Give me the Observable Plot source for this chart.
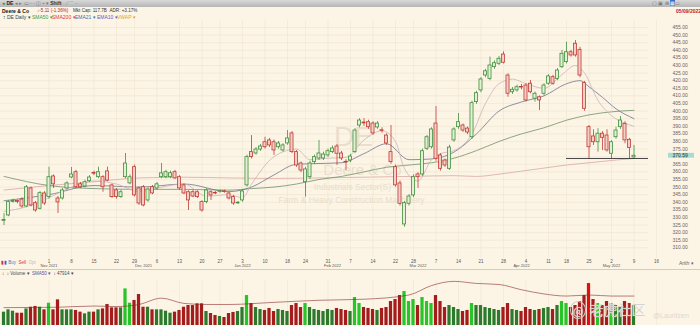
<!DOCTYPE html>
<html><head><meta charset="utf-8">
<script src="https://cdn.jsdelivr.net/npm/d3@7"></script>
<script src="https://cdn.jsdelivr.net/npm/@observablehq/plot@0.6"></script>
<style>
body{margin:0;background:#fcf5e6;font-family:"Liberation Sans",Arial,sans-serif;}
#wrap{position:relative;width:700px;height:325px;overflow:hidden;background:#fcf5e6;}
.abs{position:absolute;white-space:nowrap;line-height:1;}
svg{position:absolute;left:0;overflow:visible;}
</style></head><body><div id="wrap"></div>
<script>
// ---------------- DATA ----------------
const startDate = "2021-10-18";
const holidays = ["2021-11-25","2021-12-24","2022-01-17","2022-02-21","2022-04-15"];

const open = [327.8,331.3,340.3,340.8,341.8,337.2,349.1,339.4,335.7,345.8,
343.4,357.0,342.5,342.5,349.1,356.3,359.8,351.8,350.4,353.9,
359.2,356.5,356.5,360.3,351.1,347.8,343.4,356.5,352.4,363.1,
349.1,349.9,341.2,349.9,349.1,356.5,356.5,356.5,359.8,356.5,
351.1,346.6,346.6,346.6,340.1,340.1,346.6,346.2,346.9,347.2,
345.8,343.4,339.3,341.2,351.1,373.0,372.1,374.7,379.5,380.7,
379.5,376.2,374.1,378.7,385.3,373.0,365.5,353.2,356.5,366.4,
368.8,368.8,370.8,373.0,376.7,372.1,366.6,367.5,373.0,390.5,
392.4,392.7,391.8,389.2,387.4,383.9,373.0,363.1,352.4,325.4,
339.0,344.5,358.3,358.3,375.2,376.2,391.8,370.8,367.5,362.0,
380.7,389.4,390.5,388.5,382.8,405.9,413.6,423.4,421.2,428.9,
431.1,437.2,423.4,412.4,413.6,415.9,416.8,418.0,408.1,409.1,
411.4,418.0,422.3,421.2,428.9,432.2,438.7,444.3,440.3,418.4,
389.4,383.3,379.5,385.1,383.9,371.9,382.8,389.4,391.6,381.1,
369.5];
const high = [332.6,341.0,342.0,341.5,343.0,351.0,350.0,340.5,347.0,347.0,
363.1,358.0,343.8,349.0,353.5,362.9,361.0,353.0,354.5,357.5,
360.5,363.1,357.5,363.1,352.0,349.0,348.0,372.1,358.0,364.5,
350.0,351.0,349.5,351.0,353.0,365.5,361.0,360.5,361.0,357.5,
352.0,347.5,348.0,347.5,341.0,349.0,347.5,347.0,348.0,348.0,
346.5,344.5,340.5,348.0,371.0,383.9,376.0,378.0,382.8,382.0,
381.0,380.0,378.5,387.2,386.5,374.0,366.5,363.0,367.0,371.0,
380.7,373.0,375.0,377.0,378.0,373.5,368.0,371.5,388.5,395.0,
395.0,394.0,393.0,393.0,389.0,385.0,390.5,364.5,354.0,340.5,
345.0,358.0,359.5,375.0,384.0,389.0,403.0,372.0,368.5,377.5,
389.0,398.4,391.5,389.5,406.5,413.0,422.0,427.5,435.5,433.0,
436.0,439.0,424.5,415.5,417.0,417.5,418.0,420.1,412.5,410.0,
418.0,424.0,423.5,428.0,439.9,445.3,440.0,446.4,442.0,419.5,
390.5,387.7,388.4,386.5,387.7,380.5,389.4,396.4,393.0,382.0,
377.4];
const low = [324.7,330.5,339.5,339.0,336.0,336.5,337.0,333.5,335.0,338.0,
342.0,349.1,332.6,341.5,348.0,355.5,349.0,349.0,349.5,353.0,
357.5,355.5,346.6,353.5,342.5,342.0,342.5,355.5,351.5,343.5,
338.0,337.0,340.0,345.0,348.0,355.5,355.5,355.5,355.0,348.0,
345.0,334.6,343.0,342.5,333.5,339.0,341.2,345.0,346.0,346.0,
341.5,338.0,338.5,340.0,350.0,368.5,371.0,373.5,375.0,376.0,
370.8,375.0,373.0,377.5,372.0,363.0,359.5,343.4,355.0,365.0,
367.5,367.5,369.5,372.0,364.2,367.5,360.9,366.0,372.0,389.0,
390.0,388.0,384.0,388.0,385.5,377.5,365.0,350.0,337.5,323.6,
337.5,343.0,349.1,357.0,374.0,375.0,367.0,360.5,363.0,361.0,
379.5,388.0,386.0,384.5,381.5,404.5,412.0,422.0,420.0,427.5,
430.0,431.0,409.1,411.0,412.5,414.0,406.0,411.4,405.9,400.4,
410.0,417.0,417.0,420.0,428.0,431.0,435.5,435.5,422.0,399.9,
368.6,377.4,373.0,374.1,373.0,368.6,381.5,388.0,378.5,368.6,
368.6];
const close = [328.4,340.1,340.9,340.2,337.2,349.9,337.9,334.6,346.0,339.2,
356.5,351.8,339.9,347.8,352.4,358.3,349.9,349.9,353.2,356.3,
358.8,359.8,349.9,354.3,343.4,343.4,346.6,365.5,356.5,344.5,
339.2,337.9,348.4,345.8,351.8,359.0,359.8,359.1,355.7,349.1,
345.8,341.2,343.8,343.4,334.6,347.8,344.5,345.8,347.3,346.8,
342.5,339.2,339.7,347.1,369.7,369.7,374.7,376.7,376.2,377.4,
374.1,378.7,377.4,382.0,373.0,364.2,360.9,361.6,365.5,369.7,
372.1,371.4,373.6,375.4,371.9,368.8,366.2,370.1,387.2,393.8,
391.9,389.4,385.3,391.8,387.0,378.7,366.4,351.1,339.0,339.4,
343.8,356.5,356.5,373.6,382.8,387.9,368.6,362.0,364.2,376.0,
387.9,392.7,387.2,385.9,405.2,411.8,420.8,426.2,430.0,431.5,
434.4,431.8,411.4,414.0,415.7,415.5,407.0,412.4,411.4,407.0,
416.8,422.8,418.0,426.7,437.7,438.7,436.6,436.6,423.4,401.5,
376.2,379.5,385.1,382.4,374.1,379.5,387.2,393.8,380.7,375.7,
370.6];
// volume, millions of shares
const volume = [1.27,1.49,1.36,1.17,1.17,1.58,1.74,1.81,1.74,1.49,
2.12,1.49,2.44,1.49,1.49,1.49,1.43,1.27,1.11,1.27,
1.27,1.49,1.58,2.00,1.68,1.68,1.68,3.48,2.12,2.38,
2.95,1.74,1.74,1.49,1.49,1.49,1.36,1.17,1.27,1.43,
1.74,1.90,1.90,2.06,2.06,1.33,1.14,0.95,0.86,0.76,
1.14,1.24,1.33,1.71,2.85,2.09,1.71,1.52,1.43,1.62,
1.33,1.52,1.43,1.33,1.90,2.09,1.71,2.09,1.71,1.52,
1.43,1.33,1.52,1.43,1.62,1.52,1.43,1.33,2.66,2.09,
1.71,1.62,1.52,1.43,1.62,1.71,2.28,2.47,2.85,3.23,
2.28,2.47,1.90,2.66,2.28,2.09,2.85,2.28,1.71,1.90,
1.71,1.52,1.33,1.43,2.09,1.90,1.90,1.71,1.62,1.52,
1.43,1.71,2.09,1.52,1.43,1.33,1.71,1.52,1.43,1.52,
1.62,1.71,1.52,1.90,2.28,2.09,1.71,1.90,2.28,2.85,
3.99,2.47,2.09,1.90,2.28,2.09,1.90,1.71,2.28,2.09,
1.90];

// moving averages (trading-day index, value)
const sma200Idx = [0,10,20,30,40,50,60,70,80,90,100,105,110,115,120,125,130,135,140];
const sma200Val = [348,351,353.5,356,356.5,356,355.7,356,356.5,357,357.5,357,358.5,360.5,362.5,364.5,366,367.5,368.8];
const sma50Idx = [0,10,20,30,40,50,55,60,65,70,75,80,85,90,95,100,105,110,115,120,125,130,135,140];
const sma50Val = [357,351,349,348.5,348.5,348,349,350,352,355,357,360,363,364.5,366,369,374,380,385,389,394,397.5,399.5,400.5];
const ema21Idx = [0,10,20,30,40,50,55,60,65,70,75,80,85,90,95,100,105,110,115,120,125,128,130,133,136,140];
const ema21Val = [341,345,351,350,352,347,350,358,365,365.5,366,372,378.5,368,368.5,373,385,400,406,410,418,420,416,409,401.5,395];
const ema10Idx = [0,5,10,15,20,25,30,35,40,45,50,53,55,60,65,68,72,76,80,84,87,89,92,95,97,100,104,107,110,113,116,120,124,127,129,132,135,138,140];
const ema10Val = [334,337,343,350,354,352,347,350,352,344,345,343,352,370,375,368,369,369.5,381,387,380,362,354,368,372,374,385,405,418,421,418,415,424,430,425,407,397,392,390];
const volAvgIdx = [0,12,20,25,30,35,40,45,50,60,70,80,90,95,100,105,110,115,120,125,130,135,140];
const volAvgVal = [1.7,1.74,1.85,1.8,2.0,2.6,2.1,2.0,2.0,2.2,2.4,2.5,2.9,3.8,4.2,4.0,3.9,3.4,3.0,2.8,2.9,2.8,2.8];

const supportLevel = 368.8, supportFrom = 125;
const lastPrice = 370.59, change = -5.11, changePct = -1.36;

const tickDates = ["2021-11-01","2021-11-08","2021-11-15","2021-11-22","2021-11-29","2021-12-06","2021-12-13","2021-12-20","2021-12-27","2022-01-03","2022-01-10","2022-01-18","2022-01-24","2022-01-31","2022-02-07","2022-02-14","2022-02-22","2022-02-28","2022-03-07","2022-03-14","2022-03-21","2022-03-28","2022-04-04","2022-04-11","2022-04-18","2022-04-25","2022-05-02","2022-05-09","2022-05-16"];
const tickLabels = ["1","8","15","22","29","6","13","20","27","3","10","18","24","31","7","14","22","28","7","14","21","28","4","11","18","25","2","9","16"];
const monthDates = ["2021-11-01","2021-12-01","2022-01-03","2022-02-01","2022-03-01","2022-04-01","2022-05-02"];
const monthLabels = ["Nov 2021","Dec 2021","Jan 2022","Feb 2022","Mar 2022","Apr 2022","May 2022"];
const priceTicks = d3.range(310, 460, 5);

// ---------------- BUILD ----------------
function tradingDays(start, n) {
  const out = []; const d = new Date(start + "T12:00:00Z");
  while (out.length < n) {
    const wd = d.getUTCDay(), s = d.toISOString().slice(0, 10);
    if (wd !== 0 && wd !== 6 && !holidays.includes(s)) out.push(s);
    d.setUTCDate(d.getUTCDate() + 1);
  }
  return out;
}
const days = tradingDays(startDate, 150);
const idx = new Map(days.map((d, i) => [d, i]));
const bars = close.map((c, i) => ({i, date: days[i], o: open[i], h: high[i], l: low[i], c, v: volume[i]}));
const series = (I, V) => I.map((i, k) => ({i, v: V[k]}));

const GREEN = "#3f8f3a", RED = "#c23b32";
const GFILL = "#e3efd6", RFILL = "#f3cfc8";
const col = d => d.c >= d.o ? GREEN : RED;
const xDomain = [-0.778, 143.222];
const FONT = "'Liberation Sans', Arial, sans-serif";

const wrap = document.getElementById("wrap");
function addDiv(html, css) { const d = document.createElement("div"); d.className = "abs"; d.innerHTML = html; Object.assign(d.style, css); wrap.appendChild(d); return d; }

// toolbar
addDiv("", {left: "0px", top: "0px", width: "700px", height: "7px", background: "linear-gradient(#d9d9d9,#b5b5b5)"});
addDiv("<span style='color:#2a9a2a'>●</span> <b style='color:#223'>DE</b> <span style='color:#777'>◂ ▸ ▭ ◦ ◦ ◫ ▪ ▾</span> <b style='color:#333'>Shift</b> <span style='color:#888'>◌ ⁄ ⌒ ◦</span>", {left: "2px", top: "1px", fontSize: "5px"});
addDiv("<span style='color:#777'>▢ ▣ ⊞</span> <span style='background:#3b6fc2;color:#fff'>▦</span><span style='color:#888'>▭</span>", {left: "652px", top: "1px", fontSize: "5px"});

// title rows
addDiv("<b>Deere &amp; Co</b>", {left: "2px", top: "8.5px", fontSize: "5px", color: "#111"});
addDiv(`<span style='color:#c0201a'>↓${change.toFixed(2)} (${changePct.toFixed(2)}%)</span>`, {left: "37px", top: "8.5px", fontSize: "4.6px"});
addDiv("Mkt Cap: 117.7B &nbsp;ADR: +3.17%", {left: "73px", top: "8.5px", fontSize: "4.6px", color: "#333"});
addDiv("05/09/2022", {left: "676px", top: "8.5px", fontSize: "5px", color: "#c0201a", fontWeight: "bold"});
addDiv("↕ DE Daily ▾", {left: "3px", top: "15px", fontSize: "5px", color: "#444"});
addDiv("SMA50 ▾", {left: "32px", top: "15px", fontSize: "5px", color: "#3c9a3c"});
addDiv("SMA200 ▾", {left: "52px", top: "15px", fontSize: "5px", color: "#d33"});
addDiv("EMA21 ▾", {left: "75px", top: "15px", fontSize: "5px", color: "#4a6aa8"});
addDiv("EMA10 ▾", {left: "97px", top: "15px", fontSize: "5px", color: "#5a5ad0"});
addDiv("VWAP ▾", {left: "117px", top: "15px", fontSize: "5px", color: "#e0a030"});

// ---------------- PRICE PANE ----------------
const price = Plot.plot({
  width: 700, height: 270, marginTop: 20, marginBottom: 12, marginLeft: 0, marginRight: 52,
  style: {background: "transparent", fontFamily: FONT, overflow: "visible"},
  x: {domain: xDomain, axis: null},
  y: {domain: [303, 459.6], axis: null},
  marks: [
    Plot.ruleY(priceTicks, {y: d => d, stroke: "#eee2cc", strokeWidth: 0.6}),
    Plot.ruleX(tickDates, {x: d => idx.get(d), stroke: "#efe4d0", strokeWidth: 0.6}),
    // watermark
    Plot.text(["DE"], {frameAnchor: "middle", dx: 29, dy: -2, fontSize: 28, fill: "#eadfcc"}),
    Plot.text(["Deere & Co"], {frameAnchor: "middle", dx: 38, dy: 31, fontSize: 15, fill: "#eadfcc"}),
    Plot.text(["Industrials Sector(S)"], {frameAnchor: "middle", dx: 28, dy: 48, fontSize: 8.5, fill: "#e8dcc9"}),
    Plot.text(["Farm & Heavy Construction Machinery"], {frameAnchor: "middle", dx: 27, dy: 61, fontSize: 8.5, fill: "#e8dcc9"}),
    // moving averages
    Plot.line(series(sma200Idx, sma200Val), {x: "i", y: "v", stroke: "#dba7a0", strokeWidth: 0.8, curve: "monotone-x"}),
    Plot.line(series(sma50Idx, sma50Val), {x: "i", y: "v", stroke: "#71906a", strokeWidth: 0.8, curve: "monotone-x"}),
    Plot.line(series(ema21Idx, ema21Val), {x: "i", y: "v", stroke: "#72728e", strokeWidth: 0.8, curve: "monotone-x"}),
    Plot.line(series(ema10Idx, ema10Val), {x: "i", y: "v", stroke: "#cdb3b8", strokeWidth: 0.8, curve: "monotone-x"}),
    // candles
    Plot.ruleX(bars, {x: "i", y1: "l", y2: "h", stroke: col, strokeWidth: 0.8}),
    Plot.rect(bars, {x1: d => d.i - 0.34, x2: d => d.i + 0.34, y1: "o", y2: "c", fill: d => d.c >= d.o ? GFILL : RFILL, stroke: col, strokeWidth: 0.8}),
    // support line
    Plot.ruleY([supportLevel], {y: d => d, x1: supportFrom, x2: xDomain[1], stroke: "#333", strokeWidth: 0.9}),
    // axes
    Plot.axisY(priceTicks, {anchor: "right", tickSize: 0, tickPadding: 24, tickFormat: d3.format(".2f"), fontSize: 5, fill: "#666"}),
    // last price marker on the axis
    Plot.rect([lastPrice], {x1: xDomain[1], x2: xDomain[1], insetLeft: 20, insetRight: -46, fill: "#9fd9d0", fillOpacity: 0.9, y1: d => d - 1.6, y2: d => d + 1.6}),
    Plot.text([lastPrice], {x: xDomain[1], y: d => d, dx: 24, textAnchor: "start", text: d => d.toFixed(2), fontSize: 5, fill: "#1d3b38"}),
    Plot.text(tickDates, {x: d => idx.get(d), text: (d, k) => tickLabels[k], frameAnchor: "bottom", dy: 4, fontSize: 4.5, fill: "#555"}),
    Plot.text(monthDates, {x: d => idx.get(d), text: (d, k) => monthLabels[k], frameAnchor: "bottom", dy: 8.5, fontSize: 4, fill: "#555"})
  ]
});
price.style.top = "0px";
wrap.appendChild(price);

// bottom of price pane
addDiv("<span style='color:#c33'>▮</span><span style='color:#36c'>▮</span> <span style='color:#4a7ad0'>Buy</span> &nbsp;<span style='color:#d33'>Sell</span> &nbsp;<span style='color:#bbb'>Opt</span>", {left: "1px", top: "261px", fontSize: "4.5px"});
addDiv("Arith ▾", {left: "679px", top: "261px", fontSize: "5px", color: "#666"});
addDiv("", {left: "0px", top: "269px", width: "700px", height: "0px", borderTop: "0.6px solid #d8ccb5"});
addDiv("↕ &nbsp;↕ Volume ▾ &nbsp;<span style='color:#5050a0'>SMA50 ▾</span> &nbsp;↕ 47914 ▾", {left: "2px", top: "271.5px", fontSize: "4.5px", color: "#444"});

// ---------------- VOLUME PANE ----------------
const vol = Plot.plot({
  width: 700, height: 45, marginTop: 0, marginBottom: 0, marginLeft: 0, marginRight: 52,
  style: {background: "transparent", fontFamily: FONT, overflow: "visible"},
  x: {domain: xDomain, axis: null},
  y: {domain: [0, 4.28], axis: null},
  marks: [
    Plot.ruleX(tickDates, {x: d => idx.get(d), stroke: "#efe4d0", strokeWidth: 0.6}),
    Plot.rectY(bars, {x1: d => d.i - 0.36, x2: d => d.i + 0.36, y: "v", fill: d => d.c >= d.o ? (d.v > 1.95 ? "#29c429" : "#2d7a2d") : (d.v > 3 ? "#e01010" : "#a51c1c")}),
    Plot.line(series(volAvgIdx, volAvgVal), {x: "i", y: "v", stroke: "#8a2a2a", strokeWidth: 0.6, curve: "monotone-x"})
  ]
});
vol.style.top = "280px";
wrap.appendChild(vol);

// watermark (community)
addDiv("<span style='font-size:11px;border:1.2px solid #cfcbc5;border-radius:50%;padding:0 2px;color:#cfcbc5'>@</span> 老虎社区", {left: "570px", top: "302px", fontSize: "14px", color: "#d6d2cc", fontFamily: "'Noto Sans CJK SC'", textShadow: "0 0 1px #fff"});
addDiv("@Lauritzen", {left: "653px", top: "312px", fontSize: "7px", color: "#dcd8d2"});
</script></body></html>
